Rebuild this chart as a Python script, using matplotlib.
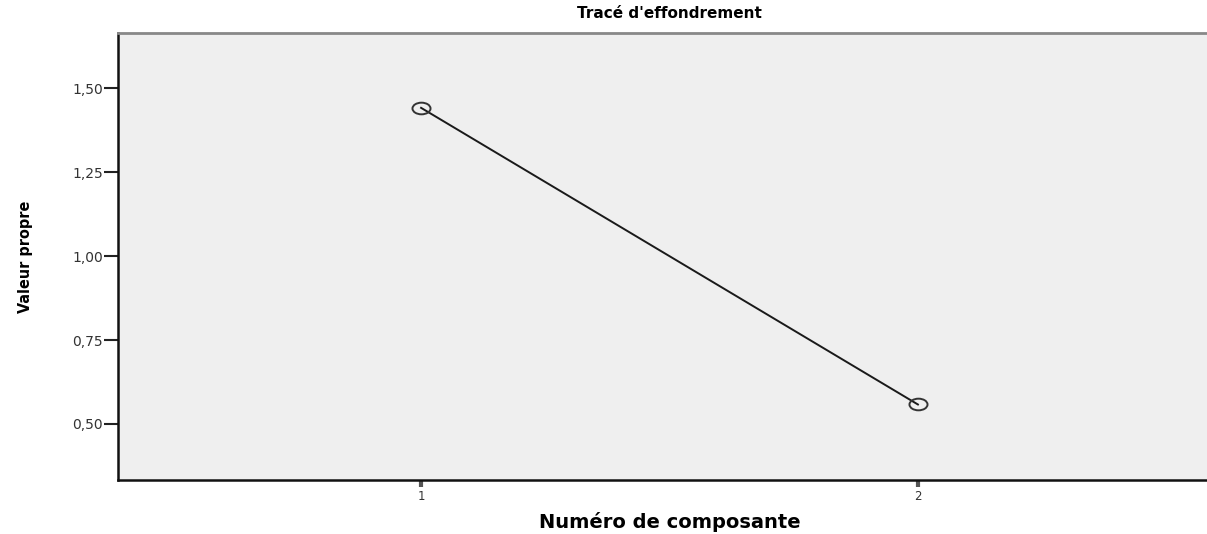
import matplotlib.pyplot as plt
from matplotlib.path import Path
from matplotlib.transforms import Affine2D
from matplotlib.ticker import FuncFormatter

components = [1, 2]
eigenvalues = [1.442, 0.558]
y_ticks = [0.50, 0.75, 1.00, 1.25, 1.50]

# the original is stretched sideways, so the circles look like ellipses
ellipse = Path.unit_circle().transformed(Affine2D().scale(1.55, 1.0))

fig = plt.figure(figsize=(12.07, 5.34), dpi=100)
ax = fig.add_axes([118 / 1207, 54 / 534, (1221 - 118) / 1207, (480 - 33) / 534])
ax.set_facecolor('#efefef')

ax.plot(components, eigenvalues, color='#1a1a1a', linewidth=1.4,
        marker=ellipse, markersize=13, markerfacecolor='none',
        markeredgecolor='#333333', markeredgewidth=1.4)

ax.set_xlim(0.39, 2.61)
ax.set_ylim(0.333, 1.665)
ax.set_xticks(components)
ax.set_yticks(y_ticks)
ax.yaxis.set_major_formatter(FuncFormatter(lambda v, p: f'{v:.2f}'.replace('.', ',')))
ax.tick_params(axis='y', direction='out', length=10, width=1.5,
               color='#222222', labelsize=10, labelcolor='#333333', pad=1)
ax.tick_params(axis='x', direction='out', length=5, width=3,
               color='#555555', labelsize=8.5, labelcolor='#333333', pad=2)

ax.spines['right'].set_visible(False)
ax.spines['top'].set_color('#888888')
ax.spines['top'].set_linewidth(2)
for s in ['left', 'bottom']:
    ax.spines[s].set_color('#111111')
    ax.spines[s].set_linewidth(1.8)

ax.set_title("Tracé d'effondrement", fontsize=11, fontweight='bold', pad=11)
ax.set_xlabel('Numéro de composante', fontsize=14, fontweight='bold')
ax.xaxis.set_label_coords(0.5, -0.072)
ax.set_ylabel('Valeur propre', fontsize=11.5, fontweight='bold',
              fontstretch='condensed')
ax.yaxis.set_label_coords(-0.077, 0.5)

plt.savefig('out.png', dpi=100)
